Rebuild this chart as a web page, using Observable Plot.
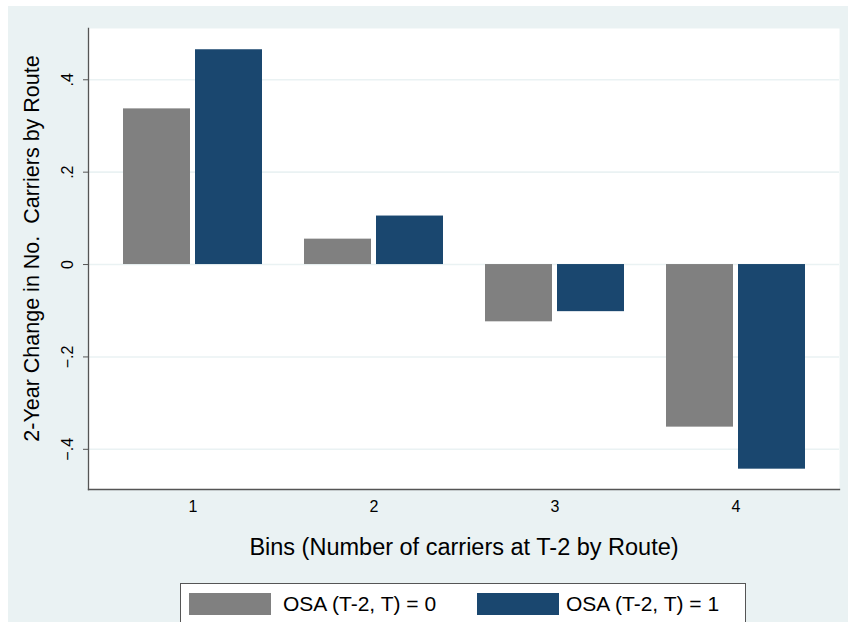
<!DOCTYPE html>
<html>
<head>
<meta charset="utf-8">
<script src="https://cdn.jsdelivr.net/npm/d3@7"></script>
<script src="https://cdn.jsdelivr.net/npm/@observablehq/plot@0.6"></script>
<style>
  html, body { margin: 0; padding: 0; background: #ffffff; }
  body { width: 848px; height: 622px; overflow: hidden; position: relative; font-family: "Liberation Sans", Arial, Helvetica, sans-serif; }
  #bg { position: absolute; left: 8px; top: 6px; width: 840px; height: 616px; background: #eaf2f3; }
  #chart { position: absolute; left: 8px; top: 6px; }
  #legend { position: absolute; left: 180px; top: 583px; width: 566px; height: 60px; background: #ffffff; border: 1px solid #555555; box-sizing: border-box; }
  .sw { position: absolute; top: 9px; width: 82px; height: 22px; }
  .lt { position: absolute; top: 8px; font-size: 21px; line-height: 24px; color: #000; white-space: nowrap; }
</style>
</head>
<body>
<div id="bg"></div>
<div id="chart"></div>
<div id="legend"></div>
<script>
// ---- data ----
const bins = ["1", "2", "3", "4"];
const osa0 = [0.337, 0.055, -0.124, -0.352];
const osa1 = [0.465, 0.105, -0.102, -0.443];
const seriesLabels = ["OSA (T-2, T) = 0", "OSA (T-2, T) = 1"];
const seriesColors = ["#808080", "#1a476f"];
const yTicks = [-0.4, -0.2, 0, 0.2, 0.4];
const yDomain = [-0.487, 0.511];
const xTitle = "Bins (Number of carriers at T-2 by Route)";
const yTitle = "2-Year Change in No.\u00a0 Carriers by Route";

const rows0 = bins.map((b, i) => ({bin: b, value: osa0[i], series: seriesLabels[0]}));
const rows1 = bins.map((b, i) => ({bin: b, value: osa1[i], series: seriesLabels[1]}));

const fmt = d => d === 0 ? "0" : d3.format(".1f")(d).replace("0.", ".");

const font = "'Liberation Sans', Arial, Helvetica, sans-serif";

const chart = Plot.plot({
  width: 840,
  height: 570,
  marginLeft: 80,
  marginTop: 22,
  marginRight: 9,
  marginBottom: 87,
  style: {background: "transparent", fontFamily: font, color: "#000"},
  x: {domain: bins, paddingInner: 0.234, paddingOuter: 0.186, axis: null},
  y: {domain: yDomain, axis: null},
  marks: [
    Plot.frame({fill: "#ffffff", stroke: "none"}),
    Plot.gridY(yTicks, {stroke: "#eaf2f3", strokeOpacity: 1, strokeWidth: 1.6}),
    Plot.barY(rows0, {x: "bin", y: "value", fill: seriesColors[0], insetRight: 72}),
    Plot.barY(rows1, {x: "bin", y: "value", fill: seriesColors[1], insetLeft: 72}),
    Plot.axisY({ticks: yTicks, tickFormat: fmt, tickRotate: -90, tickSize: 5, tickPadding: 11, fontSize: 16, stroke: "#555", label: null}),
    Plot.axisX({tickSize: 0, tickPadding: 11, fontSize: 16, label: null}),
    Plot.frame({anchor: "left", stroke: "#555", strokeWidth: 1.3}),
    Plot.frame({anchor: "bottom", stroke: "#555", strokeWidth: 1.3}),
    Plot.text([xTitle], {frameAnchor: "bottom", dy: 58, lineAnchor: "middle", fontSize: 23.5, fill: "#000"}),
    Plot.text([yTitle], {frameAnchor: "left", textAnchor: "middle", rotate: -90, dx: -56, dy: -10.5, lineAnchor: "middle", fontSize: 21.5, fill: "#000"})
  ]
});
document.getElementById("chart").appendChild(chart);

// legend
const legend = document.getElementById("legend");
const swX = [8, 296];
const txX = [102, 385];
seriesLabels.forEach((lab, i) => {
  const sw = document.createElement("div");
  sw.className = "sw";
  sw.style.left = swX[i] + "px";
  sw.style.background = seriesColors[i];
  legend.appendChild(sw);
  const t = document.createElement("div");
  t.className = "lt";
  t.style.left = txX[i] + "px";
  t.textContent = lab;
  legend.appendChild(t);
});
</script>
</body>
</html>
